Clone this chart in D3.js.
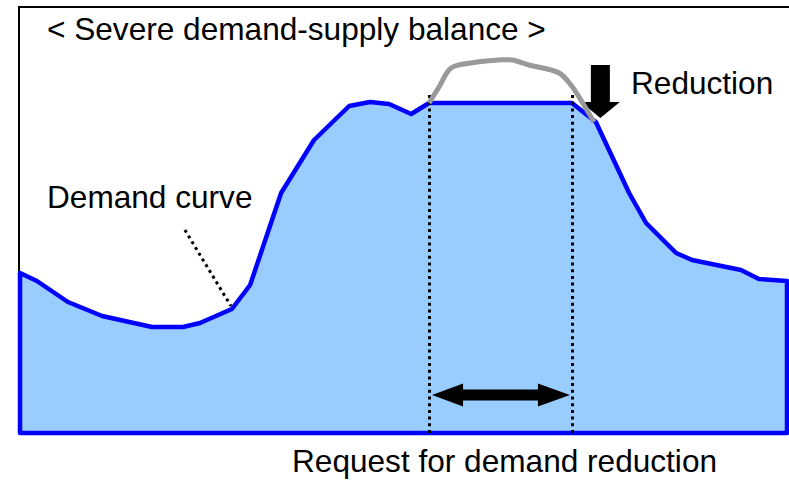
<!DOCTYPE html>
<html>
<head>
<meta charset="utf-8">
<script src="https://cdn.jsdelivr.net/npm/d3@7"></script>
<style>
  body { margin: 0; background: #fff; }
  text { font-family: "Liberation Sans", Arial, sans-serif; font-size: 31.6px; fill: #000; }
</style>
</head>
<body>
<script>
// demand over one day (hour of day, demand in arbitrary units)
var demandHours  = [0, 0.53, 1.5, 2.57, 4.13, 5.1, 5.63, 6.63, 7.2, 8.17, 9.2, 10.3, 10.95, 11.55, 12.24, 12.8, 17.27, 18.02, 18.43, 19.06, 19.59, 20.53, 21.03, 22.56, 23.12, 24];
var demandValues = [40, 38, 32.75, 29.25, 26.5, 26.5, 27.5, 31, 37, 60, 73.25, 81.75, 82.75, 82.25, 79.75, 82.5, 82.5, 77.75, 70.75, 60, 52.5, 45, 43.25, 40.75, 38.5, 38];

// demand without the reduction (grey hump above the cap)
var originalHours  = [12.8, 13.11, 13.49, 14.11, 14.99, 15.4, 15.93, 16.87, 17.24, 17.55, 17.96];
var originalValues = [82.5, 86.5, 91.25, 92.5, 93.25, 93.25, 92, 90, 87, 83.25, 77.75];

// window where reduction is requested
var requestWindow = [12.8, 17.27];

var width = 789, height = 480;

var x = d3.scaleLinear().domain([0, 24]).range([20, 787]);
var y = d3.scaleLinear().domain([0, 100]).range([433, 33]);

var demand = demandHours.map(function(h, i) { return [h, demandValues[i]]; });
var original = originalHours.map(function(h, i) { return [h, originalValues[i]]; });

var svg = d3.select("body").append("svg").attr("width", width).attr("height", height);

// frame
svg.append("rect")
  .attr("x", 19).attr("y", 7).attr("width", 800).attr("height", 426)
  .style("fill", "none").style("stroke", "#000").style("stroke-width", 2);

// demand area, outlined all round in blue
var area = d3.area()
  .x(function(d) { return x(d[0]); })
  .y0(y(0))
  .y1(function(d) { return y(d[1]); });

svg.append("path")
  .datum(demand)
  .attr("d", area)
  .style("fill", "#99ccff")
  .style("stroke", "#0000ff")
  .style("stroke-width", 4.5)
  .style("stroke-linejoin", "round");

// dotted window lines
svg.selectAll(".window")
  .data(requestWindow)
  .enter().append("line")
  .attr("class", "window")
  .attr("x1", function(d) { return Math.round(x(d)) + 0.5; })
  .attr("x2", function(d) { return Math.round(x(d)) + 0.5; })
  .attr("y1", y(84.5))
  .attr("y2", y(0))
  .style("stroke", "#000").style("stroke-width", 3).style("stroke-dasharray", "3,3.7");

// grey original demand
var line = d3.line()
  .x(function(d) { return x(d[0]); })
  .y(function(d) { return y(d[1]); })
  .curve(d3.curveCatmullRom);

// down arrow "Reduction"
var ax = x(18.16), aTop = y(92), aBase = y(82.75), aTip = y(78.75);
svg.append("path")
  .attr("d", "M" + (ax - 9.5) + "," + aTop + "H" + (ax + 9.5) + "V" + aBase + "H" + (ax + 19.5) +
        "L" + ax + "," + aTip + "L" + (ax - 19.5) + "," + aBase + "H" + (ax - 9.5) + "Z")
  .style("fill", "#000");

svg.append("path")
  .datum(original)
  .attr("d", line)
  .style("fill", "none")
  .style("stroke", "#999999")
  .style("stroke-width", 5)
  .style("stroke-linejoin", "round");

// double arrow across the window
var ay = y(9.5), left = x(requestWindow[0]) + 3, right = x(requestWindow[1]) - 2;
svg.append("path")
  .attr("d", "M" + left + "," + ay + "L" + (left + 31) + "," + (ay - 11.5) + "V" + (ay - 5.5) +
        "H" + (right - 32) + "V" + (ay - 11.5) + "L" + right + "," + ay + "L" + (right - 32) + "," + (ay + 11.5) +
        "V" + (ay + 5.5) + "H" + (left + 31) + "V" + (ay + 11.5) + "Z")
  .style("fill", "#000");

// leader for "Demand curve"
svg.append("line")
  .attr("x1", x(5.16)).attr("y1", y(50.75))
  .attr("x2", x(6.6)).attr("y2", y(31.75))
  .style("stroke", "#000").style("stroke-width", 3).style("stroke-dasharray", "3,3.7");

// labels
svg.append("text").attr("x", 47).attr("y", 40).text("< Severe demand-supply balance >");
svg.append("text").attr("x", 47).attr("y", 208).text("Demand curve");
svg.append("text").attr("x", 631).attr("y", 94).text("Reduction");
svg.append("text").attr("x", 292).attr("y", 472).text("Request for demand reduction");
</script>
</body>
</html>
